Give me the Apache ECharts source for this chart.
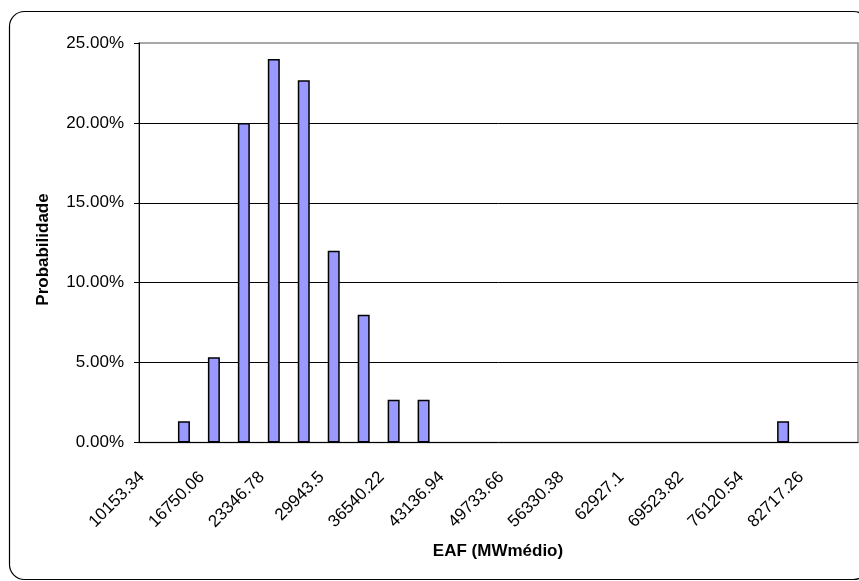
<!DOCTYPE html>
<html>
<head>
<meta charset="utf-8">
<script src="https://cdn.jsdelivr.net/npm/echarts@6/dist/echarts.min.js"></script>
<style>
  html, body { margin: 0; padding: 0; background: #fff; }
  #chart { width: 859px; height: 581px; }
</style>
</head>
<body>
<div id="chart"></div>
<script>
// Histogram bins (lower bound of each EAF class, MWmédio)
const categories = [
  '10153.34', '13451.7', '16750.06', '20048.42', '23346.78', '26645.14',
  '29943.5', '33241.86', '36540.22', '39838.58', '43136.94', '46435.3',
  '49733.66', '53032.02', '56330.38', '59628.74', '62927.1', '66225.46',
  '69523.82', '72822.18', '76120.54', '79418.9', '82717.26', '86015.62'
];

// Probability of each class
const probabilities = [
  0, 0.0133, 0.0533, 0.2, 0.24, 0.2267,
  0.12, 0.08, 0.0267, 0.0267, 0, 0,
  0, 0, 0, 0, 0, 0,
  0, 0, 0, 0.0133, 0, 0
];

const xTitle = 'EAF (MWmédio)';
const yTitle = 'Probabilidade';

const FONT = '"Liberation Sans", Arial, sans-serif';

// Empty classes get no outline so no stub is drawn on the axis
const barData = probabilities.map(v =>
  v === 0 ? { value: v, itemStyle: { borderWidth: 0 } } : v
);

const chart = echarts.init(document.getElementById('chart'), null, { renderer: 'canvas' });

chart.setOption({
  animation: false,
  backgroundColor: '#ffffff',
  grid: {
    left: 139, top: 43, right: 1, bottom: 138.5,
    show: true,
    borderColor: '#8c8c8c',
    borderWidth: 1.5,
    backgroundColor: 'transparent'
  },
  xAxis: {
    type: 'category',
    data: categories,
    axisLine: { lineStyle: { color: '#000', width: 1 } },
    axisTick: { interval: 0, length: 5, lineStyle: { color: '#000', width: 1 } },
    axisLabel: {
      interval: 1,
      rotate: 45,
      margin: 20,
      padding: [0, 17, 0, 0],
      fontFamily: FONT,
      fontSize: 17,
      color: '#000'
    },
    splitLine: { show: false }
  },
  yAxis: {
    type: 'value',
    min: 0,
    max: 0.25,
    interval: 0.05,
    axisLine: { show: true, lineStyle: { color: '#000', width: 1 } },
    axisTick: { show: true, length: 5, lineStyle: { color: '#000', width: 1 } },
    axisLabel: {
      margin: 15,
      fontFamily: FONT,
      fontSize: 17,
      color: '#000',
      formatter: v => (v * 100).toFixed(2) + '%'
    },
    splitLine: {
      show: true,
      showMinLine: false,
      showMaxLine: false,
      lineStyle: { color: '#000', width: 1 }
    }
  },
  series: [{
    type: 'bar',
    data: barData,
    barWidth: 12,
    itemStyle: { color: '#9999ff', borderColor: '#000', borderWidth: 1.5 }
  }],
  graphic: [
    {
      type: 'rect',
      silent: true,
      shape: { x: 9.5, y: 11.5, width: 859, height: 568, r: 15 },
      style: { fill: 'none', stroke: '#000', lineWidth: 1.2 },
      z: -1
    },
    {
      type: 'text',
      x: 43, y: 249.5,
      rotation: Math.PI / 2,
      style: {
        text: yTitle,
        font: 'bold 17px ' + FONT,
        fill: '#000',
        textAlign: 'center',
        textVerticalAlign: 'middle'
      }
    },
    {
      type: 'text',
      x: 498, y: 551,
      style: {
        text: xTitle,
        font: 'bold 17px ' + FONT,
        fill: '#000',
        textAlign: 'center',
        textVerticalAlign: 'middle'
      }
    }
  ]
});
</script>
</body>
</html>
